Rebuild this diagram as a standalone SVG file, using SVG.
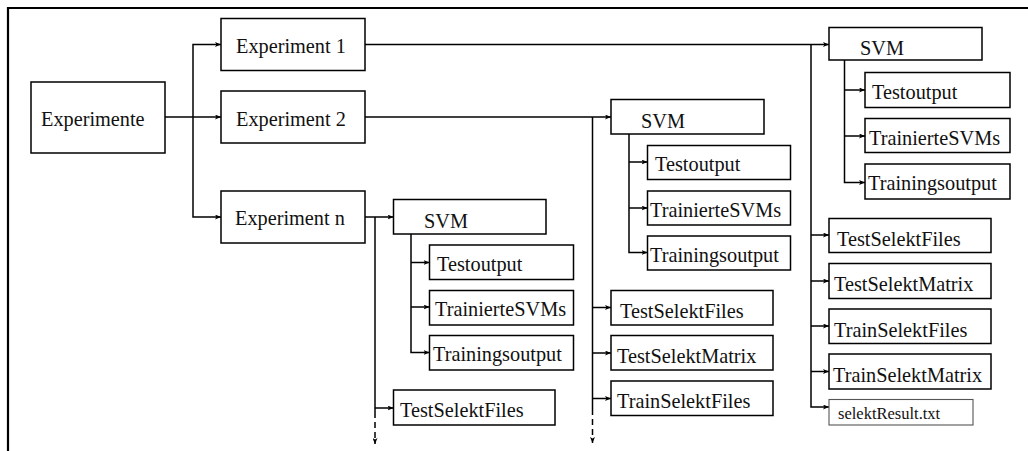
<svg xmlns="http://www.w3.org/2000/svg" width="1028" height="451" viewBox="0 0 1028 451">
  <style>
    .box { fill: #fff; stroke: #000; stroke-width: 1.5; }
    .thin { fill: #fff; stroke: #555; stroke-width: 1.1; }
    .lbl { font-family: "Liberation Serif", "Times New Roman", serif; font-size: 20.3px; fill: #111; }
    .small { font-family: "Liberation Serif", "Times New Roman", serif; font-size: 16.5px; fill: #111; }
    .wire { fill: none; stroke: #000; stroke-width: 1.5; }
    .dash { fill: none; stroke: #000; stroke-width: 1.5; stroke-dasharray: 6 4; }
    .frame { fill: none; stroke: #000; stroke-width: 2.2; }
  </style>
  <defs>
    <marker id="arr" markerUnits="userSpaceOnUse" viewBox="0 0 6 5" markerWidth="6" markerHeight="5" refX="6" refY="2.5" orient="auto">
      <path d="M0,0 L6,2.5 L0,5 L1.5,2.5 z" fill="#000"/>
    </marker>
  </defs>

  <rect width="1028" height="451" fill="#fff"/>
  <path class="frame" d="M8,451 V8 H1028"/>

  <!-- connectors -->
  <g id="connectors">
    <!-- root to experiments -->
    <path class="wire" d="M165,117 H221" marker-end="url(#arr)"/>
    <path class="wire" d="M193,117 V44.5 H221" marker-end="url(#arr)"/>
    <path class="wire" d="M193,117 V217 H221" marker-end="url(#arr)"/>

    <!-- Experiment 1 -->
    <path class="wire" d="M365,44.5 H829" marker-end="url(#arr)"/>
    <path class="wire" d="M811,44.5 V407 H829" marker-end="url(#arr)"/>
    <path class="wire" d="M811,235 H829" marker-end="url(#arr)"/>
    <path class="wire" d="M811,281 H829" marker-end="url(#arr)"/>
    <path class="wire" d="M811,326 H829" marker-end="url(#arr)"/>
    <path class="wire" d="M811,371.5 H829" marker-end="url(#arr)"/>
    <path class="wire" d="M844.5,60 V182.5 H865" marker-end="url(#arr)"/>
    <path class="wire" d="M844.5,90 H865" marker-end="url(#arr)"/>
    <path class="wire" d="M844.5,136 H865" marker-end="url(#arr)"/>

    <!-- Experiment 2 -->
    <path class="wire" d="M365,117 H611" marker-end="url(#arr)"/>
    <path class="wire" d="M592.5,117 V409"/>
    <path class="dash" d="M592.5,409 V443" marker-end="url(#arr)"/>
    <path class="wire" d="M592.5,307.5 H611" marker-end="url(#arr)"/>
    <path class="wire" d="M592.5,353 H611" marker-end="url(#arr)"/>
    <path class="wire" d="M592.5,398.5 H611" marker-end="url(#arr)"/>
    <path class="wire" d="M629,134 V252.5 H647.5" marker-end="url(#arr)"/>
    <path class="wire" d="M629,162 H647.5" marker-end="url(#arr)"/>
    <path class="wire" d="M629,208 H647.5" marker-end="url(#arr)"/>

    <!-- Experiment n -->
    <path class="wire" d="M365,217 H393.5" marker-end="url(#arr)"/>
    <path class="wire" d="M375,217 V412"/>
    <path class="dash" d="M375,412 V444" marker-end="url(#arr)"/>
    <path class="wire" d="M375,408 H393.5" marker-end="url(#arr)"/>
    <path class="wire" d="M411,234 V352.5 H429.5" marker-end="url(#arr)"/>
    <path class="wire" d="M411,262.5 H429.5" marker-end="url(#arr)"/>
    <path class="wire" d="M411,307 H429.5" marker-end="url(#arr)"/>
  </g>

  <!-- root -->
  <g id="experimente"><rect class="box" x="31" y="82" width="134" height="71"/><text class="lbl" x="41" y="126">Experimente</text></g>
  <g id="exp1"><rect class="box" x="221" y="18.5" width="144" height="52"/><text class="lbl" x="236" y="53">Experiment 1</text></g>
  <g id="exp2"><rect class="box" x="221" y="91" width="144" height="52"/><text class="lbl" x="236" y="125.5">Experiment 2</text></g>
  <g id="expn"><rect class="box" x="221" y="191" width="144" height="52"/><text class="lbl" x="235" y="225">Experiment n</text></g>

  <!-- Experiment 1 subtree -->
  <g id="e1-svm"><rect class="box" x="829" y="27.5" width="153" height="32.5"/><text class="lbl" x="860" y="55">SVM</text></g>
  <g id="e1-testoutput"><rect class="box" x="865" y="72.5" width="145" height="35"/><text class="lbl" x="872" y="98.5">Testoutput</text></g>
  <g id="e1-trainiertesvms"><rect class="box" x="865" y="118.5" width="145" height="34"/><text class="lbl" x="869" y="144.5">TrainierteSVMs</text></g>
  <g id="e1-trainingsoutput"><rect class="box" x="865" y="164" width="145" height="35"/><text class="lbl" x="868" y="190">Trainingsoutput</text></g>
  <g id="e1-testselektfiles"><rect class="box" x="829" y="218.5" width="162" height="34"/><text class="lbl" x="837" y="245.5">TestSelektFiles</text></g>
  <g id="e1-testselektmatrix"><rect class="box" x="829" y="263.5" width="162" height="35"/><text class="lbl" x="834" y="290.5">TestSelektMatrix</text></g>
  <g id="e1-trainselektfiles"><rect class="box" x="829" y="309" width="162" height="34.5"/><text class="lbl" x="834" y="336.5">TrainSelektFiles</text></g>
  <g id="e1-trainselektmatrix"><rect class="box" x="829" y="354" width="162" height="35"/><text class="lbl" x="833" y="381.5">TrainSelektMatrix</text></g>
  <g id="e1-selektresult"><rect class="thin" x="829" y="399.5" width="144" height="25.5"/><text class="small" x="838" y="418.5">selektResult.txt</text></g>

  <!-- Experiment 2 subtree -->
  <g id="e2-svm"><rect class="box" x="611" y="99.5" width="153" height="34.5"/><text class="lbl" x="641" y="127.5">SVM</text></g>
  <g id="e2-testoutput"><rect class="box" x="647.5" y="145.5" width="143" height="34"/><text class="lbl" x="655" y="171">Testoutput</text></g>
  <g id="e2-trainiertesvms"><rect class="box" x="647.5" y="191" width="143" height="34"/><text class="lbl" x="650" y="217">TrainierteSVMs</text></g>
  <g id="e2-trainingsoutput"><rect class="box" x="647.5" y="236" width="143" height="34"/><text class="lbl" x="650" y="262">Trainingsoutput</text></g>
  <g id="e2-testselektfiles"><rect class="box" x="611" y="290.5" width="162" height="34.5"/><text class="lbl" x="620" y="317.5">TestSelektFiles</text></g>
  <g id="e2-testselektmatrix"><rect class="box" x="611" y="335.5" width="162" height="34.5"/><text class="lbl" x="617" y="362.5">TestSelektMatrix</text></g>
  <g id="e2-trainselektfiles"><rect class="box" x="611" y="381" width="162" height="34.5"/><text class="lbl" x="617" y="408">TrainSelektFiles</text></g>

  <!-- Experiment n subtree -->
  <g id="en-svm"><rect class="box" x="393.5" y="199.5" width="152.5" height="34.5"/><text class="lbl" x="424" y="227.5">SVM</text></g>
  <g id="en-testoutput"><rect class="box" x="429.5" y="245" width="144" height="34.5"/><text class="lbl" x="437" y="270.5">Testoutput</text></g>
  <g id="en-trainiertesvms"><rect class="box" x="429.5" y="290.5" width="144" height="34.5"/><text class="lbl" x="435" y="316">TrainierteSVMs</text></g>
  <g id="en-trainingsoutput"><rect class="box" x="429.5" y="335.5" width="144" height="34.5"/><text class="lbl" x="433" y="361">Trainingsoutput</text></g>
  <g id="en-testselektfiles"><rect class="box" x="393.5" y="390" width="161.5" height="35"/><text class="lbl" x="400" y="417">TestSelektFiles</text></g>
</svg>
